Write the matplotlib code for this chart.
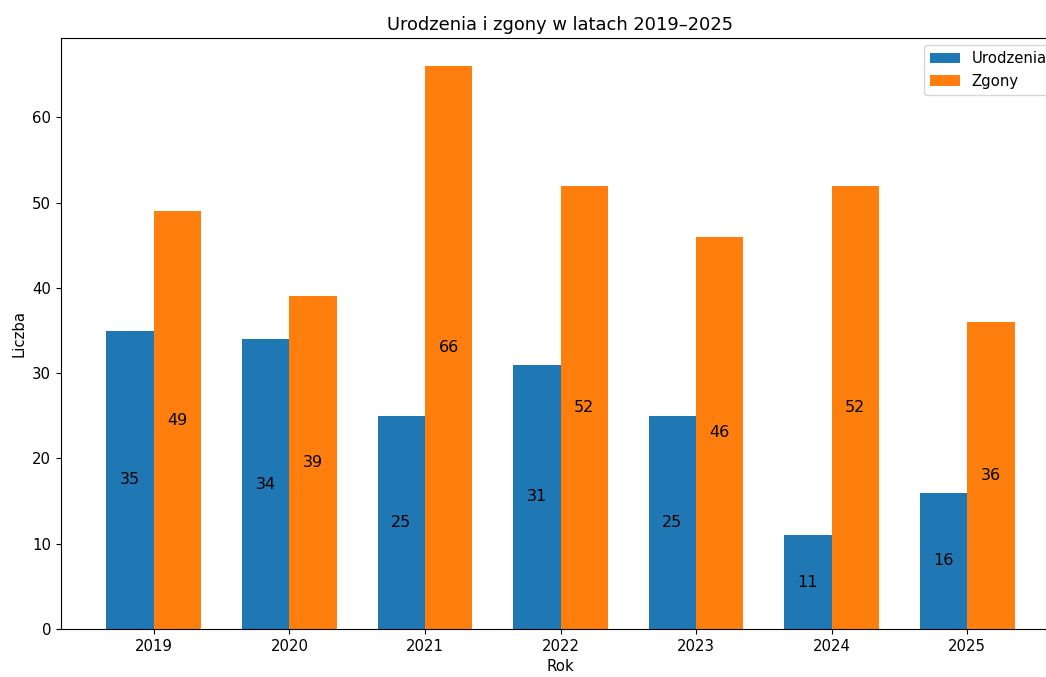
# Urodzenia i zgony w latach 2019-2025

import numpy as np
import matplotlib
matplotlib.use('Agg')
import matplotlib.pyplot as plt

plt.rcParams['font.size'] = 10.7

# dane
lata = ['2019', '2020', '2021', '2022', '2023', '2024', '2025']
urodzenia = [35, 34, 25, 31, 25, 11, 16]
zgony = [49, 39, 66, 52, 46, 52, 36]

x = np.arange(len(lata))
szer = 0.35

fig = plt.figure(figsize=(10.46, 6.77), dpi=100)
# osie wychodzą trochę poza prawą krawędź (jak w oryginale)
ax = fig.add_axes([61 / 1046, 48 / 677, 999 / 1046, 591 / 677])

b1 = ax.bar(x - szer / 2, urodzenia, szer, label='Urodzenia', color='#1f77b4')
b2 = ax.bar(x + szer / 2, zgony, szer, label='Zgony', color='#ff7f0e')

ax.bar_label(b1, label_type='center', fontsize=11.5)
ax.bar_label(b2, label_type='center', fontsize=11.5)

ax.set_xticks(x)
ax.set_xticklabels(lata)
ax.set_xlabel('Rok')
ax.set_ylabel('Liczba')
ax.set_title('Urodzenia i zgony w latach 2019–2025', fontsize=12.9)
ax.legend(loc='upper right')

fig.savefig('out.png', dpi=100)
